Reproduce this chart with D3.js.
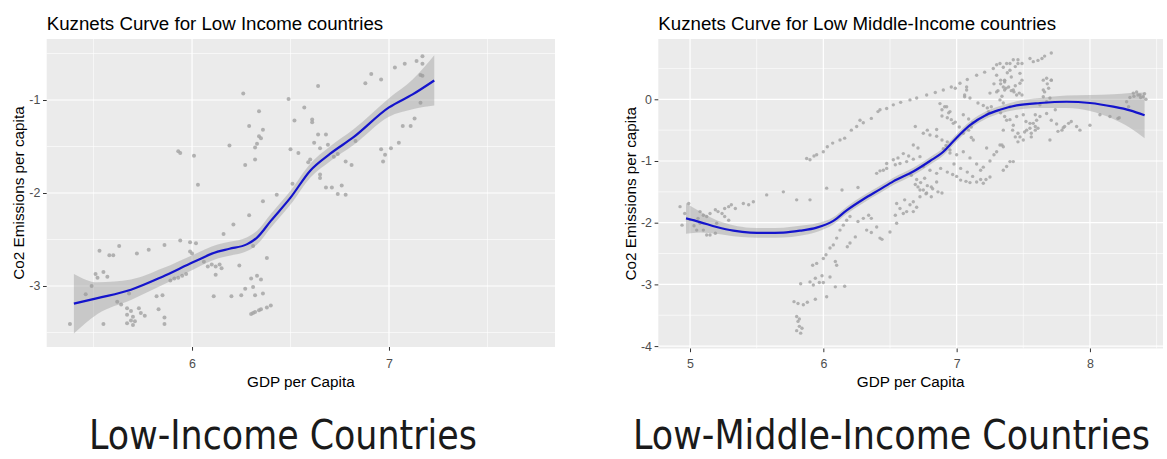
<!DOCTYPE html>
<html><head><meta charset="utf-8">
<script src="https://cdn.jsdelivr.net/npm/d3@7"></script>
<style>
body{margin:0;background:#fff;}
svg{display:block;}
text{font-family:"Liberation Sans",Arial,sans-serif;}
</style>
</head><body>
<svg id="chart" width="1167" height="459"></svg>
<script>
// ---------------- DATA ----------------
// Low income countries: scatter (log GDP per capita, log CO2 per capita)
const lowGdp = [
 5.38,5.53,5.55,5.58,5.60,5.63,5.51,5.49,5.52,5.57,
 5.46,5.55,5.62,5.64,5.68,5.67,5.69,5.67,5.70,5.69,
 5.71,5.67,5.70,5.73,5.74,5.72,5.76,5.78,5.82,5.85,
 5.83,5.86,5.86,5.86,5.94,5.99,6.02,5.99,6.00,5.89,
 5.91,5.93,5.95,5.97,6.06,6.08,6.10,6.12,6.14,6.15,
 6.12,6.11,6.03,6.16,6.20,6.21,6.24,6.25,6.27,6.29,
 6.30,6.31,6.31,6.32,6.33,6.35,6.36,6.36,6.38,6.40,
 6.30,6.31,6.32,6.34,6.35,6.38,6.43,6.26,6.49,6.34,
 6.29,6.36,6.34,6.35,6.33,6.32,6.19,5.93,5.94,6.01,
 6.27,6.32,6.52,6.50,6.54,6.64,6.57,6.61,6.61,6.64,
 6.68,6.62,6.65,6.69,6.60,6.59,6.65,6.65,6.78,6.81,
 6.72,6.74,6.83,6.68,6.71,6.76,6.74,6.78,6.88,6.91,
 6.96,6.96,6.98,6.97,7.01,7.05,7.07,7.11,7.13,7.03,
 7.08,7.14,7.17,7.17,7.16,7.17,7.16,6.51
];
const lowCo2 = [
 -3.41,-2.62,-2.85,-2.67,-2.67,-2.57,-2.87,-3.00,-2.91,-2.90,
 -3.09,-3.41,-3.17,-3.20,-3.08,-3.24,-3.27,-3.31,-3.33,-3.37,
 -3.38,-3.40,-3.42,-3.24,-3.29,-2.65,-3.32,-2.61,-3.11,-3.10,
 -3.25,-2.56,-3.34,-3.41,-2.51,-2.53,-2.54,-2.63,-2.65,-2.94,
 -2.92,-2.91,-2.89,-2.87,-2.74,-2.79,-2.77,-2.79,-2.77,-2.81,
 -2.88,-3.11,-1.91,-2.44,-3.11,-2.34,-2.78,-3.10,-3.03,-2.24,
 -2.92,-2.57,-3.01,-3.10,-2.89,-2.93,-2.09,-3.08,-2.70,-3.21,
 -3.30,-3.29,-3.28,-3.26,-3.25,-3.23,-2.02,-0.93,-0.99,-1.12,
 -1.28,-1.32,-1.39,-1.41,-1.47,-1.51,-1.49,-1.55,-1.57,-1.60,
 -1.70,-1.64,-1.22,-1.53,-1.57,-0.85,-1.08,-1.21,-1.24,-1.37,
 -1.37,-1.46,-1.52,-1.48,-1.64,-1.67,-1.80,-1.84,-1.66,-1.70,
 -1.61,-1.58,-1.44,-1.94,-1.94,-1.92,-2.01,-2.02,-0.82,-0.72,
 -0.78,-1.53,-1.59,-1.66,-1.52,-1.46,-1.28,-1.28,-1.20,-0.65,
 -0.61,-0.58,-0.61,-0.53,-0.73,-0.74,-1.03,-1.90
];
// Low income: loess fit and its standard error
const lowFitX  = [5.40,5.52,5.69,5.85,6.01,6.13,6.19,6.28,6.33,6.40,6.50,6.60,6.70,6.82,7.00,7.12,7.23];
const lowFitY  = [-3.19,-3.13,-3.04,-2.90,-2.74,-2.63,-2.60,-2.55,-2.48,-2.30,-2.05,-1.76,-1.58,-1.40,-1.08,-0.94,-0.79];
const lowFitSe = [0.32,0.17,0.11,0.09,0.08,0.075,0.075,0.075,0.075,0.075,0.075,0.075,0.08,0.085,0.10,0.16,0.27];

// Low middle income countries: scatter
const midGdp = [
 4.925,4.94,4.96,4.99,5.075,5.10,5.125,5.15,5.19,5.21,
 5.24,5.26,5.29,5.31,5.34,5.40,5.44,5.475,5.575,5.70,
 5.80,5.90,6.025,6.14,6.26,5.10,5.125,5.15,5.19,5.20,
 5.075,5.05,5.26,5.29,5.00,5.03,5.06,5.80,5.81,5.82,
 5.80,5.83,5.84,5.82,5.78,5.81,5.85,5.88,5.83,5.90,
 5.94,5.925,5.97,5.99,6.00,6.05,6.025,5.94,5.92,5.95,
 6.00,6.02,6.05,6.075,6.10,6.125,6.15,6.175,6.20,6.09,
 6.10,6.18,6.20,6.24,6.26,6.30,6.34,6.36,6.325,6.36,
 6.40,6.425,6.44,6.50,6.55,6.09,6.16,6.54,6.625,6.675,
 6.40,6.425,6.45,6.475,6.54,6.575,6.625,6.675,6.725,6.55,
 6.575,6.61,6.65,6.675,6.725,6.75,6.775,6.81,6.85,6.60,
 6.70,5.875,5.90,5.93,5.95,6.00,6.03,6.07,6.125,6.16,
 6.21,6.25,6.275,6.30,6.36,6.41,6.425,6.475,6.525,6.58,
 6.65,6.70,6.775,6.84,6.90,6.96,7.025,7.08,7.15,7.21,
 7.275,7.325,6.875,6.91,6.95,6.89,6.93,6.99,6.96,6.94,
 7.05,7.09,7.11,7.12,7.16,7.20,7.23,7.26,7.24,7.25,
 7.28,7.30,7.33,7.35,7.31,7.37,7.34,7.36,7.075,7.10,
 7.06,6.75,6.80,6.85,6.89,6.93,6.69,6.78,6.85,6.675,
 6.475,6.525,6.60,6.64,6.71,6.56,6.89,6.925,6.99,7.075,
 7.06,7.225,7.30,7.35,7.38,7.41,7.36,7.33,7.41,7.43,
 7.40,7.46,7.49,7.55,7.61,7.66,7.71,7.30,7.36,7.44,
 7.47,7.49,7.65,7.68,7.71,7.66,7.625,7.65,7.33,7.36,
 7.40,7.45,7.50,7.52,7.55,7.59,7.61,7.56,7.51,7.44,
 7.42,7.46,7.50,7.55,7.59,7.375,7.425,7.46,7.475,7.525,
 7.575,7.60,7.625,7.59,7.56,7.70,7.76,7.79,7.81,7.84,
 7.86,7.90,7.925,8.00,7.74,7.675,7.375,7.40,7.425,7.44,
 7.46,7.475,7.49,7.36,7.39,7.425,7.45,7.475,7.575,7.64,
 7.675,7.71,7.65,7.69,7.325,7.35,7.40,7.70,7.675,8.325,
 8.35,8.375,8.40,8.275,8.075,8.15,8.21,8.29,7.35,7.34,
 7.40,7.425,7.35,7.225,7.325,7.35,7.375,6.95,7.00,7.05,
 7.10,7.15,7.20,7.25,7.28,7.30,6.98,7.03,7.08,7.12,
 7.18,7.22,7.03,7.07,7.10,7.15,7.18,7.25,7.20,6.975,
 7.02,7.05,7.09,7.11,7.125,6.92,6.95,6.90,6.75,6.80,
 6.85,6.88,6.93,6.97,7.00,6.66,6.70,6.73,6.78,6.82,
 6.86,6.89,6.71,6.76,6.69,6.725,6.77,6.81,8.30,8.33,
 8.36,8.38,8.22,8.41,8.42,7.71,7.75,7.80
];
const midCo2 = [
 -1.74,-2.04,-1.85,-1.69,-1.82,-1.88,-1.90,-1.85,-1.79,-1.82,
 -1.85,-1.77,-1.74,-1.71,-1.77,-1.69,-1.71,-1.66,-1.55,-1.50,
 -1.63,-1.63,-1.44,-1.47,-1.43,-2.12,-2.20,-2.20,-2.17,-2.01,
 -2.01,-2.12,-1.90,-1.96,-1.95,-2.05,-1.93,-3.52,-3.60,-3.68,
 -3.75,-3.79,-3.71,-3.56,-3.28,-3.31,-3.33,-3.29,-2.99,-2.96,
 -2.90,-3.01,-2.97,-2.86,-2.97,-2.88,-3.20,-3.24,-2.69,-2.66,
 -2.58,-2.52,-2.41,-2.36,-2.25,-2.12,-2.04,-1.96,-1.90,-2.63,
 -2.69,-2.39,-2.33,-2.23,-1.98,-1.93,-1.88,-1.93,-2.12,-2.16,
 -2.07,-2.25,-2.27,-2.15,-2.01,-3.04,-3.03,-1.88,-1.82,-1.82,
 -1.20,-1.16,-1.15,-1.12,-1.06,-1.04,-1.01,-0.97,-0.93,-1.69,
 -1.77,-1.63,-1.71,-1.66,-1.58,-1.47,-1.52,-1.42,-1.34,-1.85,
 -1.75,-0.96,-0.98,-0.92,-0.90,-0.85,-0.77,-0.71,-0.66,-0.63,
 -0.50,-0.44,-0.34,-0.38,-0.31,-0.20,-0.17,-0.15,-0.09,-0.05,
 -0.01,0.02,0.07,0.11,0.15,0.20,0.26,0.32,0.39,0.44,
 0.50,0.58,-0.07,-0.12,-0.20,-0.27,-0.30,-0.37,-0.33,-0.22,
 -0.25,-0.32,-0.45,-0.38,-0.06,-0.10,-0.14,-0.12,-0.20,0.10,
 0.25,0.39,0.31,0.20,0.14,0.18,0.05,0.28,0.15,0.02,
 0.04,-0.55,-0.58,-0.60,-0.66,-0.69,-0.44,-0.50,-0.49,-0.74,
 -1.04,-0.98,-0.88,-0.92,-0.79,-0.95,-0.17,-0.12,0.18,0.20,
 0.07,-0.25,0.56,0.52,0.43,0.36,0.30,0.25,0.14,0.12,
 0.58,0.64,0.58,0.66,0.63,0.70,0.75,0.12,0.15,0.22,
 0.10,0.07,0.31,0.25,0.31,0.12,-0.09,0.04,-0.22,-0.28,
 -0.33,-0.28,-0.25,-0.36,-0.39,-0.44,-0.47,-0.55,-0.53,-0.61,
 -0.50,-0.69,-0.66,-0.47,-0.25,-0.34,-0.42,-0.55,-0.61,-0.50,
 -0.39,-0.34,-0.28,-0.50,-0.61,-0.66,-0.52,-0.50,-0.44,-0.39,
 -0.36,-0.44,-0.50,-0.42,-0.17,-0.23,0.58,0.47,0.64,0.53,
 0.58,0.42,0.31,0.31,0.20,0.15,0.07,0.26,0.61,0.66,
 0.34,0.31,0.15,0.18,-0.01,-0.06,-0.12,0.02,-0.04,0.10,
 0.12,0.07,0.04,-0.04,-0.25,-0.28,-0.31,-0.12,-0.50,-0.74,
 -1.01,-1.01,-1.15,-0.79,-0.74,-0.77,-1.09,-0.82,-0.90,-0.85,
 -0.95,-1.05,-1.10,-1.00,-0.90,-0.85,-1.05,-1.12,-1.18,-1.25,
 -1.15,-1.30,-1.31,-1.33,-1.35,-1.34,-1.30,-1.26,-1.36,-0.39,
 -0.45,-0.55,-0.50,-0.62,-0.66,-0.75,-0.87,-0.80,-1.09,-1.15,
 -1.20,-1.12,-1.18,-1.22,-1.25,-1.23,-1.30,-1.35,-1.40,-1.45,
 -1.50,-1.52,-1.42,-1.28,-1.38,-1.47,-1.53,-1.58,0.03,0.05,
 0.07,0.03,-0.30,0.09,0.00,-0.34,-0.40,-0.46
];
// Low middle income: loess fit and its standard error
const midFitX  = [4.97,5.075,5.20,5.325,5.45,5.575,5.70,5.825,5.95,6.075,6.175,6.30,6.425,6.525,6.675,6.80,6.90,6.975,7.10,7.225,7.325,7.45,7.625,7.825,8.0,8.175,8.30,8.41];
const midFitY  = [-1.93,-1.99,-2.07,-2.13,-2.16,-2.165,-2.16,-2.13,-2.08,-1.97,-1.80,-1.62,-1.46,-1.33,-1.17,-1.00,-0.85,-0.68,-0.42,-0.25,-0.17,-0.10,-0.06,-0.04,-0.06,-0.12,-0.18,-0.26];
const midFitSe = [0.25,0.17,0.11,0.09,0.08,0.08,0.08,0.08,0.07,0.06,0.06,0.06,0.06,0.06,0.06,0.06,0.06,0.06,0.06,0.06,0.06,0.07,0.08,0.10,0.13,0.20,0.28,0.37];

// Tick values
const lowXTicks = [6, 7];
const lowXMinor = [5.5, 6.5, 7.5];
const lowYTicks = [-3, -2, -1];
const lowYMinor = [-3.5, -2.5, -1.5, -0.5];
const midXTicks = [5, 6, 7, 8];
const midXMinor = [5.5, 6.5, 7.5, 8.5];
const midYTicks = [-4, -3, -2, -1, 0];
const midYMinor = [-3.5, -2.5, -1.5, -0.5, 0.5];

const titles = ["Kuznets Curve for Low Income countries", "Kuznets Curve for Low Middle-Income countries"];
const captions = ["Low-Income Countries", "Low-Middle-Income Countries"];
const xLabel = "GDP per Capita";
const yLabel = "Co2 Emissions per capita";

// ---------------- DRAW ----------------
const svg = d3.select("#chart");
svg.append("rect").attr("width",1167).attr("height",459).attr("fill","#ffffff");

function drawPanel(cfg){
  const g = svg.append("g");
  const x = d3.scaleLinear().domain(cfg.xDomain).range([cfg.left, cfg.right]);
  const y = d3.scaleLinear().domain(cfg.yDomain).range([cfg.bottom, cfg.top]);

  g.append("rect").attr("x",cfg.left).attr("y",cfg.top)
    .attr("width",cfg.right-cfg.left).attr("height",cfg.bottom-cfg.top)
    .attr("fill","#ebebeb");

  // grid
  g.selectAll(null).data(cfg.xMinor).join("line")
    .attr("x1",d=>x(d)).attr("x2",d=>x(d)).attr("y1",cfg.top).attr("y2",cfg.bottom)
    .attr("stroke","#ffffff").attr("stroke-width",0.6);
  g.selectAll(null).data(cfg.yMinor).join("line")
    .attr("y1",d=>y(d)).attr("y2",d=>y(d)).attr("x1",cfg.left).attr("x2",cfg.right)
    .attr("stroke","#ffffff").attr("stroke-width",0.6);
  g.selectAll(null).data(cfg.xTicks).join("line")
    .attr("x1",d=>x(d)).attr("x2",d=>x(d)).attr("y1",cfg.top).attr("y2",cfg.bottom)
    .attr("stroke","#ffffff").attr("stroke-width",1.2);
  g.selectAll(null).data(cfg.yTicks).join("line")
    .attr("y1",d=>y(d)).attr("y2",d=>y(d)).attr("x1",cfg.left).attr("x2",cfg.right)
    .attr("stroke","#ffffff").attr("stroke-width",1.2);

  // points
  const pts = cfg.gdp.map((v,i)=>({x:v, y:cfg.co2[i]}));
  g.selectAll(null).data(pts).join("circle")
    .attr("cx",d=>x(d.x)).attr("cy",d=>y(d.y)).attr("r",cfg.r)
    .attr("fill","#a6a6a6").attr("fill-opacity",0.85);

  // smoother band + line
  const fit = cfg.fitX.map((v,i)=>({x:v, y:cfg.fitY[i], se:cfg.fitSe[i]}));
  g.append("path").datum(fit)
    .attr("d", d3.area().x(d=>x(d.x)).y0(d=>y(d.y-d.se)).y1(d=>y(d.y+d.se)).curve(d3.curveMonotoneX))
    .attr("fill","#999999").attr("fill-opacity",0.42);
  g.append("path").datum(fit)
    .attr("d", d3.line().x(d=>x(d.x)).y(d=>y(d.y)).curve(d3.curveMonotoneX))
    .attr("fill","none").attr("stroke","#1414cc").attr("stroke-width",2.2);

  // axes
  const ax = g.append("g").attr("transform",`translate(0,${cfg.bottom})`)
    .call(d3.axisBottom(x).tickValues(cfg.xTicks).tickFormat(d=>String(d)).tickSize(3.7).tickPadding(cfg.xPad));
  const ay = g.append("g").attr("transform",`translate(${cfg.left},0)`)
    .call(d3.axisLeft(y).tickValues(cfg.yTicks).tickFormat(d=>String(d)).tickSize(3.7).tickPadding(2.6));
  [ax, ay].forEach(a=>{
    a.select(".domain").remove();
    a.selectAll(".tick line").attr("stroke","#333333").attr("stroke-width",1);
    a.selectAll(".tick text").attr("fill","#4d4d4d")
      .style("font-size","12.4px").style("font-family","'Liberation Sans',Arial,sans-serif");
  });

  // titles
  g.append("text").attr("x",cfg.left).attr("y",29.5).text(cfg.title)
    .attr("fill","#000").style("font-size","18.7px");
  g.append("text").attr("x",(cfg.left+cfg.right)/2).attr("y",cfg.xTitleY)
    .attr("text-anchor","middle").text(xLabel).attr("fill","#000").style("font-size","15.3px");
  g.append("text").attr("transform",`translate(${cfg.yTitleX},${(cfg.top+cfg.bottom)/2}) rotate(-90)`)
    .attr("text-anchor","middle").text(yLabel).attr("fill","#000").style("font-size","15.3px");

  // caption: measure natural width, then squeeze horizontally to the target width
  const cap = g.append("text").attr("x",0).attr("y",0).attr("text-anchor","middle")
    .text(cfg.caption).attr("fill","#1a1a1a")
    .style("font-family","'DejaVu Sans Condensed','Liberation Sans Narrow','DejaVu Sans',sans-serif")
    .style("font-size","41px");
  const w = cap.node().getComputedTextLength();
  cap.attr("transform",`translate(${cfg.capX},448.5) scale(${cfg.capW / w},1)`);
}

drawPanel({
  left:46.7, right:555, top:39, bottom:347,
  xDomain:[5.262,7.843], yDomain:[-3.656,-0.344],
  xTicks:lowXTicks, xMinor:lowXMinor, yTicks:lowYTicks, yMinor:lowYMinor,
  gdp:lowGdp, co2:lowCo2, fitX:lowFitX, fitY:lowFitY, fitSe:lowFitSe,
  r:2.0, xPad:8, title:titles[0], xTitleY:386.5, yTitleX:24,
  caption:captions[0], capX:283, capW:388
});
drawPanel({
  left:658.3, right:1163, top:39, bottom:348.5,
  xDomain:[4.762,8.548], yDomain:[-4.039,0.977],
  xTicks:midXTicks, xMinor:midXMinor, yTicks:midYTicks, yMinor:midYMinor,
  gdp:midGdp, co2:midCo2, fitX:midFitX, fitY:midFitY, fitSe:midFitSe,
  r:1.7, xPad:7, title:titles[1], xTitleY:387, yTitleX:636,
  caption:captions[1], capX:891.5, capW:517
});
</script>
</body></html>
